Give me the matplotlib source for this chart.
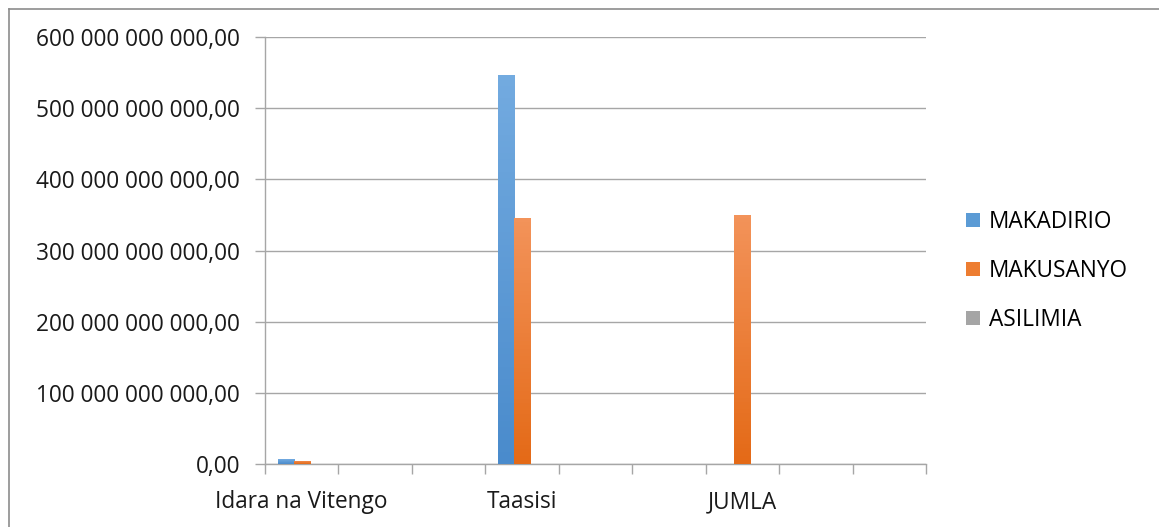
import matplotlib
matplotlib.use("Agg")
import matplotlib.pyplot as plt
import numpy as np
from matplotlib.patches import Patch
from matplotlib.colors import LinearSegmentedColormap
from matplotlib.ticker import FuncFormatter, MultipleLocator, FixedLocator

plt.rcParams['font.family'] = ['Open Sans', 'DejaVu Sans']

# 9 category slots on the axis, only every third one is labelled
categories = ["Idara na Vitengo", "", "", "Taasisi", "", "", "JUMLA", "", ""]
series_names = ["MAKADIRIO", "MAKUSANYO", "ASILIMIA"]
makadirio = [7.0e9, 0, 0, 547e9, 0, 0, 0, 0, 0]
makusanyo = [4.6e9, 0, 0, 345e9, 0, 0, 350e9, 0, 0]
asilimia = [0, 0, 0, 0, 0, 0, 0, 0, 0]
series_values = [makadirio, makusanyo, asilimia]

colors = ["#5B9BD5", "#ED7D31", "#A5A5A5"]
grad = [("#73ABE0", "#4A8BCC"), ("#F3935A", "#E46A17"), ("#B5B5B5", "#959595")]

FS = 16.3

fig = plt.figure(figsize=(11.59, 5.27), dpi=100)
ax = fig.add_axes([265/1159, 1-464/527, (926-265)/1159, (464-37)/527])

x = np.arange(len(categories))
w = 0.218
for i, (vals, c, g) in enumerate(zip(series_values, colors, grad)):
    bars = ax.bar(x + (i-1)*w, vals, width=w, color=c, zorder=3, linewidth=0)
    cmap = LinearSegmentedColormap.from_list("g", [g[1], g[0]])
    for b in bars:
        h = b.get_height()
        if h <= 0:
            continue
        x0 = b.get_x()
        im = ax.imshow(np.linspace(0, 1, 64).reshape(-1, 1), cmap=cmap, origin='lower',
                       extent=[x0, x0 + b.get_width(), 0, h], aspect='auto', zorder=3.5)
        im.set_clip_path(b)

ax.set_xlim(-0.5, len(categories) - 0.5)
ax.set_ylim(0, 600e9)

ax.yaxis.set_major_locator(MultipleLocator(100e9))
def fmt(v, pos):
    s = f"{int(round(v)):,}".replace(",", " ")
    return s + ",00"
ax.yaxis.set_major_formatter(FuncFormatter(fmt))

lab_idx = [i for i, c in enumerate(categories) if c]
ax.xaxis.set_major_locator(FixedLocator(lab_idx))
ax.set_xticklabels([categories[i] for i in lab_idx])
ax.xaxis.set_minor_locator(FixedLocator(np.arange(-0.5, len(categories), 1.0)))

gc = "#A6A6A6"
ax.grid(axis='y', color=gc, linewidth=1.0, zorder=0)
ax.set_axisbelow(True)
for s in ['top', 'right']:
    ax.spines[s].set_visible(False)
for s in ['left', 'bottom']:
    ax.spines[s].set_color(gc)
    ax.spines[s].set_linewidth(1.0)

ax.tick_params(axis='y', which='major', length=7.2, width=1.0, color=gc, pad=10.8,
               labelsize=FS, labelcolor='#1a1a1a')
ax.tick_params(axis='x', which='major', length=0, pad=19, labelsize=FS, labelcolor='#1a1a1a')
ax.tick_params(axis='x', which='minor', length=7.2, width=1.0, color=gc)

handles = [Patch(facecolor=c, edgecolor='none') for c in colors]
fig.legend(handles, series_names, loc='center left', bbox_to_anchor=(966/1159, 1-271/527),
           frameon=False, fontsize=FS, handlelength=0.6, handleheight=0.6,
           labelspacing=1.1, handletextpad=0.4, borderpad=0, borderaxespad=0)

# outer chart frame (only top and left visible, as in the cropped reference)
fig.add_artist(plt.Line2D([9/1159, 1], [1-9/527, 1-9/527], color="#8C8C8C", linewidth=1.2,
                          transform=fig.transFigure))
fig.add_artist(plt.Line2D([9/1159, 9/1159], [0, 1-9/527], color="#8C8C8C", linewidth=1.2,
                          transform=fig.transFigure))

fig.savefig("out.png", dpi=100)
